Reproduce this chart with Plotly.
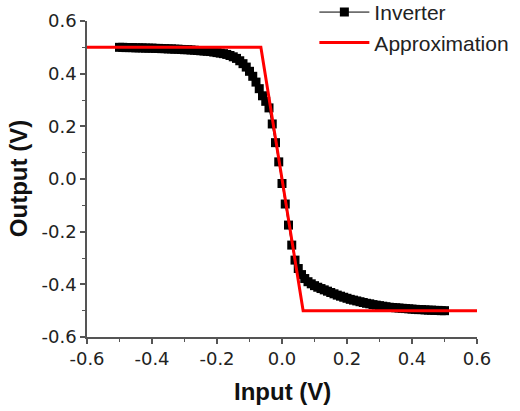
import plotly.graph_objects as go

# Inverter transfer curve (input V, output V)
inv_x = [-0.50, -0.49, -0.48, -0.47, -0.46, -0.45, -0.44, -0.43, -0.42, -0.41,
         -0.40, -0.39, -0.38, -0.37, -0.36, -0.35, -0.34, -0.33, -0.32, -0.31,
         -0.30, -0.29, -0.28, -0.27, -0.26, -0.25, -0.24, -0.23, -0.22, -0.21,
         -0.20, -0.19, -0.18, -0.17, -0.16, -0.15, -0.14, -0.13, -0.12, -0.11,
         -0.10, -0.09, -0.08, -0.07, -0.06, -0.05, -0.04, -0.03, -0.02, -0.01,
         0.00, 0.01, 0.02, 0.03, 0.04, 0.05, 0.06, 0.07, 0.08, 0.09,
         0.10, 0.11, 0.12, 0.13, 0.14, 0.15, 0.16, 0.17, 0.18, 0.19,
         0.20, 0.21, 0.22, 0.23, 0.24, 0.25, 0.26, 0.27, 0.28, 0.29,
         0.30, 0.31, 0.32, 0.33, 0.34, 0.35, 0.36, 0.37, 0.38, 0.39,
         0.40, 0.41, 0.42, 0.43, 0.44, 0.45, 0.46, 0.47, 0.48, 0.49, 0.50]
inv_y = [0.500, 0.500, 0.499, 0.499, 0.499, 0.498, 0.498, 0.498, 0.497, 0.497,
         0.497, 0.496, 0.496, 0.495, 0.495, 0.494, 0.494, 0.493, 0.493, 0.492,
         0.491, 0.491, 0.490, 0.489, 0.488, 0.487, 0.486, 0.485, 0.484, 0.482,
         0.480, 0.478, 0.476, 0.473, 0.469, 0.464, 0.458, 0.449, 0.438, 0.425,
         0.409, 0.390, 0.368, 0.343, 0.316, 0.295, 0.270, 0.209, 0.138, 0.065,
         -0.017, -0.095, -0.175, -0.251, -0.308, -0.340, -0.363, -0.378, -0.390, -0.398,
         -0.405, -0.411, -0.416, -0.421, -0.426, -0.431, -0.436, -0.441, -0.445, -0.449,
         -0.453, -0.457, -0.460, -0.463, -0.466, -0.469, -0.472, -0.474, -0.477, -0.479,
         -0.481, -0.483, -0.485, -0.487, -0.488, -0.489, -0.490, -0.491, -0.492, -0.493,
         -0.494, -0.495, -0.496, -0.496, -0.497, -0.498, -0.498, -0.499, -0.499, -0.500, -0.500]

# Piecewise-linear approximation
apx_x = [-0.6, -0.065, 0.065, 0.6]
apx_y = [0.5, 0.5, -0.5, -0.5]

x_ticks = [-0.6, -0.4, -0.2, 0.0, 0.2, 0.4, 0.6]
x_labels = ["-0.6", "-0.4", "-0.2", "0.0", "0.2", "0.4", "0.6"]
y_ticks = [-0.6, -0.4, -0.2, 0.0, 0.2, 0.4, 0.6]
y_labels = ["-0.6", "-0.4", "-0.2", "0.0", "0.2", "0.4", "0.6"]
x_title = "Input (V)"
y_title = "Output (V)"

fig = go.Figure()
fig.add_trace(go.Scatter(
    x=inv_x, y=inv_y, name="Inverter", mode="lines+markers",
    line=dict(color="black", width=1),
    marker=dict(symbol="square", size=9, color="black"),
))
fig.add_trace(go.Scatter(
    x=apx_x, y=apx_y, name="Approximation", mode="lines",
    line=dict(color="#ff0000", width=3),
))

axis_common = dict(
    showline=True, linecolor="#555555", linewidth=1.5,
    ticks="outside", ticklen=5, tickwidth=1.5, tickcolor="#555555",
    showgrid=False, zeroline=False, mirror=False,
    tickfont=dict(family="DejaVu Sans", size=18, color="#222222"),
    minor=dict(ticks="outside", ticklen=3, tickwidth=1.2, tickcolor="#555555", dtick=0.1, showgrid=False),
)

title_font = dict(family="Liberation Sans", size=24, color="#111111")

fig.update_layout(
    width=520, height=411,
    margin=dict(l=86.5, r=42.7, t=21, b=74.3, autoexpand=False),
    paper_bgcolor="white", plot_bgcolor="white",
    xaxis=dict(range=[-0.6, 0.6], tickvals=x_ticks, ticktext=x_labels, **axis_common),
    yaxis=dict(range=[-0.6, 0.6], tickvals=y_ticks, ticktext=y_labels, **axis_common),
    legend=dict(x=0.583, y=1.092, xanchor="left", yanchor="top",
                font=dict(family="Liberation Sans", size=21, color="#222222"),
                bgcolor="rgba(0,0,0,0)", itemwidth=50, tracegroupgap=0),
    showlegend=True,
    annotations=[
        dict(text="<b>" + x_title + "</b>", xref="paper", yref="paper",
             x=0.5, y=-0.174, xanchor="center", yanchor="middle",
             showarrow=False, font=title_font),
        dict(text="<b>" + y_title + "</b>", xref="paper", yref="paper",
             x=-0.1766, y=0.5, xanchor="center", yanchor="middle", textangle=-90,
             showarrow=False, font=title_font),
    ],
)

fig.write_html("out.html", config={"displayModeBar": False},
               post_script="document.body.style.margin='0';")
